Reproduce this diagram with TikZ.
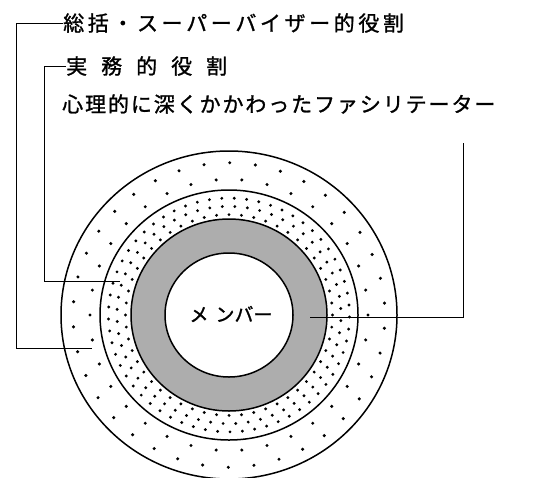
\documentclass[tikz,border=0pt]{standalone}
\usepackage{fontspec}
\newfontfamily\jpfont[FakeBold=1.2]{Noto Sans CJK JP}
\ExplSyntaxOn
\NewDocumentCommand\pitched{mm}{\tl_map_inline:nn{#2}{\makebox[#1][l]{##1}}}
\ExplSyntaxOff
\tikzset{
  ring/.style={line width=1.5pt},
  conn/.style={line width=0.9pt},
  lbl/.style={inner sep=0pt, anchor=west, font=\jpfont\fontsize{21}{21}\selectfont},
  dot/.style={fill=black},
}
\begin{document}
\begin{tikzpicture}[x=1pt,y=-1pt]
\useasboundingbox (0,0) rectangle (534,477);
\coordinate (c) at (229,315);
% outer disk
\fill[white] (c) ellipse[x radius=168pt, y radius=164pt];
\foreach \r/\n/\o in {139/34/0,156/38/5}{
  \foreach \i in {1,...,\n}{
    \pgfmathsetmacro\a{\o+\i*(360/\n)}
    \fill[dot] ({229+\r*cos(\a)},{315+0.976*\r*sin(\a)}) circle (1.7pt);
  }
}
% dense dotted ring
\fill[white] (c) ellipse[x radius=129pt, y radius=125pt];
\foreach \r/\n/\o in {103.5/52/0,112/56/3,120.5/61/1}{
  \foreach \i in {1,...,\n}{
    \pgfmathsetmacro\a{\o+\i*(360/\n)}
    \fill[dot] ({229+\r*cos(\a)},{315+0.97*\r*sin(\a)}) circle (1.6pt);
  }
}
% gray ring
\fill[black!32] (c) ellipse[x radius=98pt, y radius=96pt];
\fill[white] (c) ellipse[x radius=64pt, y radius=62pt];
% strokes
\draw[ring] (c) ellipse[x radius=168pt, y radius=164pt];
\draw[ring] (c) ellipse[x radius=129pt, y radius=125pt];
\draw[ring] (c) ellipse[x radius=98pt, y radius=96pt];
\draw[ring] (c) ellipse[x radius=64pt, y radius=62pt];
% labels
\node[lbl] (t1) at (63,23) {\pitched{24.6pt}{総括・スーパーバイザー的役割}};
\node[lbl] (t2) at (66,66) {\pitched{35pt}{実務的役割}};
\node[lbl] (t3) at (62,104) {\pitched{22.9pt}{心理的に深くかかわったファシリテーター}};
\node[inner sep=0pt, font=\jpfont\fontsize{19}{19}\selectfont] (m) at (231,314) {メ\hspace{7pt}ン\hspace{0pt}バー};
% connectors
\coordinate (e1) at (92,348);
\coordinate (e2) at (120,281);
\coordinate (s3) at (463,143);
\coordinate (e3) at (310,317);
\draw[conn] (t1.west) -- (16,23) -- (16,348) -- (e1);
\draw[conn] (t2.west) -- (44,66) -- (44,281) -- (e2);
\draw[conn] (s3) -- (463,317) -- (e3);
\end{tikzpicture}
\end{document}
